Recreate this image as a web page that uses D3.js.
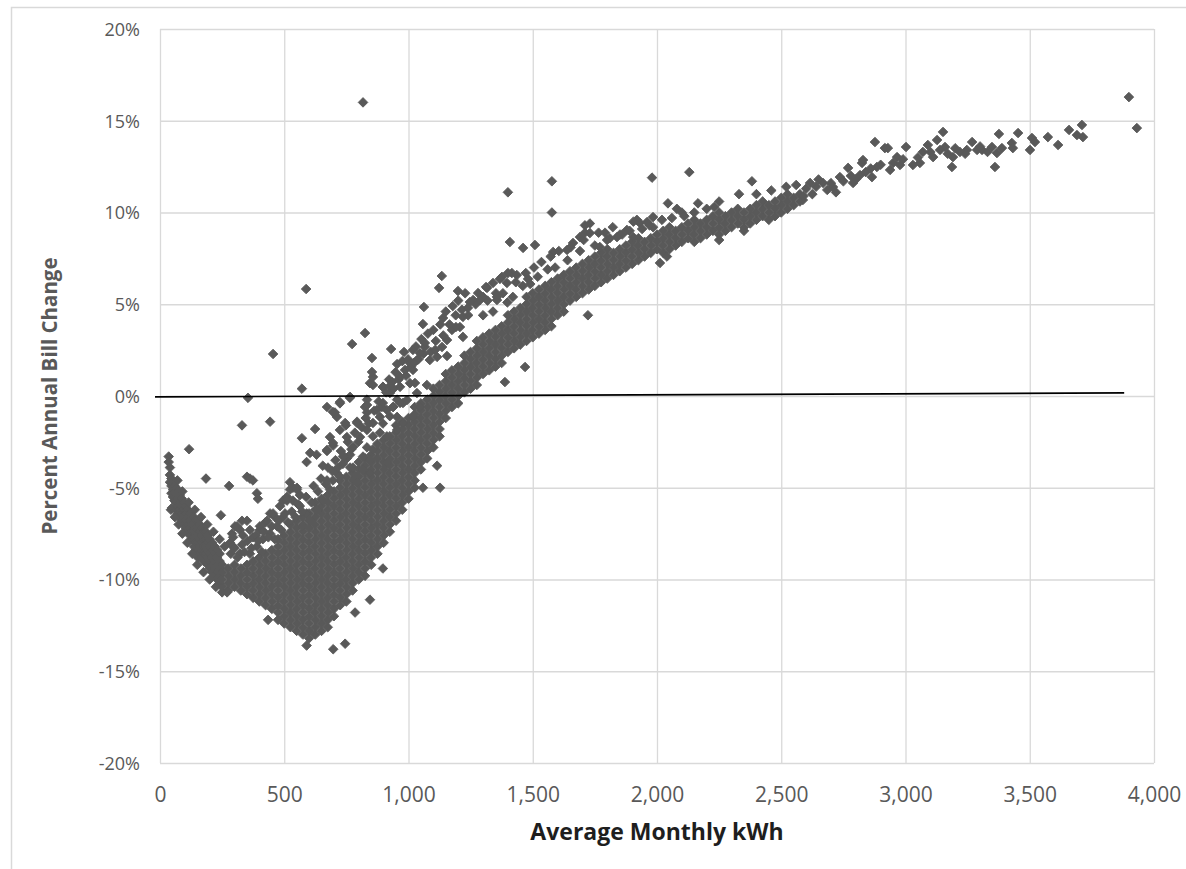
<!DOCTYPE html>
<html><head><meta charset="utf-8">
<script src="https://cdn.jsdelivr.net/npm/d3@7"></script>
<style>html,body{margin:0;padding:0;background:#fff;} svg{display:block;}</style>
</head><body><svg id="chart" width="1186" height="869"></svg>
<script>
// ---------- DATA ----------
const xTicks = [0, 500, 1000, 1500, 2000, 2500, 3000, 3500, 4000];
const yTicks = [-20, -15, -10, -5, 0, 5, 10, 15, 20];
const xTitle = "Average Monthly kWh";
const yTitle = "Percent Annual Bill Change";

// zero reference line (kWh, %)
const refLineX = [-20, 3880];
const refLineY = [-0.05, 0.17];

// low-usage arm: [kWh, pct, pct, ...]
const armColumns = [
  [35,-3.3,-3.6],[40,-3.9,-4.3,-4.7],[46,-4.5,-4.9,-5.3],[52,-4.7,-5.1,-5.5],[58,-4.9,-5.3,-5.7],
  [44,-6.2],[48,-6.1],
  [65,-5.0,-5.4,-5.8,-6.2],[72,-5.2,-5.6,-6.0,-6.4],[80,-5.4,-5.8,-6.2,-6.6],[88,-5.6,-6.0,-6.4,-6.8],
  [96,-5.8,-6.2,-6.6,-7.0],[104,-6.0,-6.4,-6.8,-7.2],[112,-6.2,-6.6,-7.0,-7.4],[120,-6.4,-6.8,-7.2,-7.6],
  [128,-6.6,-7.0,-7.4,-7.8],[136,-6.6,-7.0,-7.4,-7.8,-8.2],[144,-6.8,-7.2,-7.6,-8.0,-8.4],
  [152,-6.8,-7.2,-7.6,-8.0,-8.4,-8.8],[160,-7.0,-7.4,-7.8,-8.2,-8.6],[168,-7.2,-7.6,-8.0,-8.4,-8.8],
  [176,-7.4,-7.8,-8.2,-8.6,-9.0],[184,-7.4,-7.8,-8.2,-8.6,-9.0],[192,-7.6,-8.0,-8.4,-8.8,-9.2],
  [200,-7.8,-8.2,-8.6,-9.0,-9.4],[210,-8.0,-8.4,-8.8,-9.2,-9.6],[220,-8.2,-8.6,-9.0,-9.4,-9.8],
  [230,-8.4,-8.8,-9.2,-9.6,-10.0],[240,-8.6,-9.0,-9.4,-9.8,-10.2]
];
const armEdges = [
  [70,-4.6],[90,-5.2],[115,-5.8],[140,-6.2],[165,-6.6],[190,-7.0],[215,-7.4],[240,-7.8],[260,-8.2],
  [60,-6.6],[75,-7.0],[90,-7.5],[110,-8.0],[130,-8.6],[150,-9.2],[175,-9.6],[200,-10.0],[225,-10.4],[250,-10.7]
];

// dense core: [kWh, pct, pct, ...]
const coreColumns = [
  [250,-10.4,-10.0,-9.6,-9.2],[275,-10.6,-10.2,-9.8,-9.4],[300,-10.4,-10.0,-9.6,-9.2],
  [325,-10.6,-10.2,-9.8,-9.4],[350,-10.8,-10.4,-10.0,-9.6,-9.2],[375,-11.0,-10.6,-10.2,-9.8,-9.4,-9.0],
  [400,-11.2,-10.8,-10.4,-10.0,-9.6,-9.2,-8.8],[425,-11.4,-11.0,-10.6,-10.2,-9.8,-9.4,-9.0,-8.6],
  [450,-11.6,-11.2,-10.8,-10.4,-10.0,-9.6,-9.2,-8.8,-8.4],
  [475,-12.2,-11.8,-11.4,-11.0,-10.6,-10.2,-9.8,-9.4,-9.0,-8.6,-8.2,-7.8],
  [500,-12.4,-12.0,-11.6,-11.2,-10.8,-10.4,-10.0,-9.6,-9.2,-8.8,-8.4,-8.0,-7.6],
  [525,-12.6,-12.2,-11.8,-11.4,-11.0,-10.6,-10.2,-9.8,-9.4,-9.0,-8.6,-8.2,-7.8,-7.4,-7.0],
  [550,-12.8,-12.4,-12.0,-11.6,-11.2,-10.8,-10.4,-10.0,-9.6,-9.2,-8.8,-8.4,-8.0,-7.6,-7.2,-6.8],
  [575,-13.0,-12.6,-12.2,-11.8,-11.4,-11.0,-10.6,-10.2,-9.8,-9.4,-9.0,-8.6,-8.2,-7.8,-7.4,-7.0,-6.6],
  [600,-13.2,-12.8,-12.4,-12.0,-11.6,-11.2,-10.8,-10.4,-10.0,-9.6,-9.2,-8.8,-8.4,-8.0,-7.6,-7.2,-6.8,-6.4],
  [625,-13.0,-12.6,-12.2,-11.8,-11.4,-11.0,-10.6,-10.2,-9.8,-9.4,-9.0,-8.6,-8.2,-7.8,-7.4,-7.0,-6.6,-6.2,-5.8],
  [650,-12.8,-12.4,-12.0,-11.6,-11.2,-10.8,-10.4,-10.0,-9.6,-9.2,-8.8,-8.4,-8.0,-7.6,-7.2,-6.8,-6.4,-6.0,-5.6],
  [675,-12.6,-12.2,-11.8,-11.4,-11.0,-10.6,-10.2,-9.8,-9.4,-9.0,-8.6,-8.2,-7.8,-7.4,-7.0,-6.6,-6.2,-5.8,-5.4],
  [700,-12.0,-11.6,-11.2,-10.8,-10.4,-10.0,-9.6,-9.2,-8.8,-8.4,-8.0,-7.6,-7.2,-6.8,-6.4,-6.0,-5.6,-5.2],
  [725,-11.4,-11.0,-10.6,-10.2,-9.8,-9.4,-9.0,-8.6,-8.2,-7.8,-7.4,-7.0,-6.6,-6.2,-5.8,-5.4,-5.0,-4.6],
  [750,-11.2,-10.8,-10.4,-10.0,-9.6,-9.2,-8.8,-8.4,-8.0,-7.6,-7.2,-6.8,-6.4,-6.0,-5.6,-5.2,-4.8,-4.4],
  [775,-10.6,-10.2,-9.8,-9.4,-9.0,-8.6,-8.2,-7.8,-7.4,-7.0,-6.6,-6.2,-5.8,-5.4,-5.0,-4.6,-4.2],
  [800,-10.0,-9.6,-9.2,-8.8,-8.4,-8.0,-7.6,-7.2,-6.8,-6.4,-6.0,-5.6,-5.2,-4.8,-4.4,-4.0,-3.6],
  [825,-9.8,-9.4,-9.0,-8.6,-8.2,-7.8,-7.4,-7.0,-6.6,-6.2,-5.8,-5.4,-5.0,-4.6,-4.2,-3.8,-3.4],
  [850,-9.2,-8.8,-8.4,-8.0,-7.6,-7.2,-6.8,-6.4,-6.0,-5.6,-5.2,-4.8,-4.4,-4.0,-3.6,-3.2],
  [875,-8.6,-8.2,-7.8,-7.4,-7.0,-6.6,-6.2,-5.8,-5.4,-5.0,-4.6,-4.2,-3.8,-3.4,-3.0,-2.6],
  [900,-8.0,-7.6,-7.2,-6.8,-6.4,-6.0,-5.6,-5.2,-4.8,-4.4,-4.0,-3.6,-3.2,-2.8,-2.4],
  [925,-7.4,-7.0,-6.6,-6.2,-5.8,-5.4,-5.0,-4.6,-4.2,-3.8,-3.4,-3.0,-2.6,-2.2],
  [950,-6.8,-6.4,-6.0,-5.6,-5.2,-4.8,-4.4,-4.0,-3.6,-3.2,-2.8,-2.4,-2.0,-1.6],
  [975,-6.2,-5.8,-5.4,-5.0,-4.6,-4.2,-3.8,-3.4,-3.0,-2.6,-2.2,-1.8,-1.4],
  [1000,-5.6,-5.2,-4.8,-4.4,-4.0,-3.6,-3.2,-2.8,-2.4,-2.0,-1.6,-1.2],
  [1025,-5.0,-4.6,-4.2,-3.8,-3.4,-3.0,-2.6,-2.2,-1.8,-1.4,-1.0,-0.6],
  [1050,-4.0,-3.6,-3.2,-2.8,-2.4,-2.0,-1.6,-1.2,-0.8,-0.4],
  [1075,-3.4,-3.0,-2.6,-2.2,-1.8,-1.4,-1.0,-0.6,-0.2],
  [1100,-2.8,-2.4,-2.0,-1.6,-1.2,-0.8,-0.4,0.0,0.4],
  [1125,-2.2,-1.8,-1.4,-1.0,-0.6,-0.2,0.2,0.6],
  [1150,-1.2,-0.8,-0.4,0.0,0.4,0.8,1.2],[1175,-0.6,-0.2,0.2,0.6,1.0,1.4],
  [1200,-0.4,0.0,0.4,0.8,1.2,1.6],[1225,0.2,0.6,1.0,1.4,1.8,2.2],[1250,0.4,0.8,1.2,1.6,2.0,2.4]
];

// rising band: [kWh, pct, pct, ...]
const bandColumns = [
  [1275,0.6,1.0,1.4,1.8,2.2,2.6,3.0],[1300,1.2,1.6,2.0,2.4,2.8,3.2],[1325,1.4,1.8,2.2,2.6,3.0,3.4],
  [1350,1.6,2.0,2.4,2.8,3.2,3.6],[1375,1.8,2.2,2.6,3.0,3.4,3.8],[1400,2.4,2.8,3.2,3.6,4.0,4.4],
  [1425,2.6,3.0,3.4,3.8,4.2,4.6],[1450,2.8,3.2,3.6,4.0,4.4,4.8],[1475,3.0,3.4,3.8,4.2,4.6,5.0,5.4],
  [1500,3.2,3.6,4.0,4.4,4.8,5.2,5.6],[1525,3.4,3.8,4.2,4.6,5.0,5.4,5.8],[1550,3.6,4.0,4.4,4.8,5.2,5.6,6.0],
  [1575,3.8,4.2,4.6,5.0,5.4,5.8,6.2],[1600,4.4,4.8,5.2,5.6,6.0,6.4],[1625,4.6,5.0,5.4,5.8,6.2,6.6],
  [1650,5.2,5.6,6.0,6.4,6.8],[1675,5.4,5.8,6.2,6.6,7.0],[1700,5.6,6.0,6.4,6.8,7.2],[1725,5.8,6.2,6.6,7.0,7.4],
  [1750,6.0,6.4,6.8,7.2,7.6],[1775,6.2,6.6,7.0,7.4,7.8],[1800,6.4,6.8,7.2,7.6,8.0],[1825,6.6,7.0,7.4,7.8],
  [1850,6.8,7.2,7.6,8.0],[1875,7.0,7.4,7.8,8.2],[1900,7.2,7.6,8.0,8.4],[1925,7.4,7.8,8.2,8.6],
  [1950,7.6,8.0,8.4],[1975,7.8,8.2,8.6],[2000,8.0,8.4,8.8],[2025,7.8,8.2,8.6,9.0],[2050,8.0,8.4,8.8,9.2],
  [2075,8.2,8.6,9.0],[2100,8.4,8.8,9.2],[2125,8.6,9.0,9.4],[2150,8.4,8.8,9.2,9.6],[2175,8.6,9.0,9.4],
  [2200,8.8,9.2,9.6],[2225,9.0,9.4,9.8],[2250,8.8,9.2,9.6,10.0],[2275,9.0,9.4,9.8],[2300,9.2,9.6,10.0],
  [2325,9.4,9.8,10.2],[2350,9.2,9.6,10.0],[2375,9.4,9.8,10.2],[2400,9.6,10.0,10.4],[2425,9.8,10.2,10.6],
  [2450,9.6,10.0,10.4],[2475,9.8,10.2,10.6],[2500,10.0,10.4,10.8],[2525,10.2,10.6,11.0],
  [2550,10.4,10.8],[2575,10.6,11.0]
];

// scattered points above the dense core: [kWh, pct]
const raggedLow = [
  [350,-6.8],[330,-6.8],[322,-7.3],[294,-7.7],[282,-8.0],[302,-7.1],[374,-7.7],[402,-7.3],[423,-6.9],
  [443,-6.4],[463,-6.6],[483,-6.0],[495,-5.7],[511,-5.5],[523,-5.1],[535,-5.0],[551,-5.1],[563,-5.4],
  [535,-5.7],[563,-6.0],[590,-6.4],[575,-7.1],[604,-6.8],[630,-6.2],[655,-5.7],[684,-5.1],[696,-4.6],
  [712,-4.2],[736,-3.7],[752,-3.4],[765,-3.2],[777,-3.9],[793,-4.4],[817,-4.0],[845,-3.5],[833,-2.8],
  [857,-2.2],[885,-2.0],[897,-1.5],[925,-1.1],[938,-0.6],[954,-0.2],
  [350,-4.4],[374,-4.6],[390,-5.3],[394,-5.6],[310,-7.1],[290,-7.5],[294,-8.2],[334,-7.6],[362,-7.3],
  [402,-7.1],[431,-6.8],[455,-6.4],[511,-5.7],[523,-4.7],[551,-5.0],[495,-6.6],[471,-7.1],[443,-7.5],
  [414,-7.8],[390,-8.2],[362,-8.6],[322,-8.6],
  [285,-8.6],[300,-8.3],[312,-8.8],[330,-8.1],[340,-8.5],[352,-7.9],[368,-8.3],[385,-7.6],[396,-7.9],
  [410,-8.5],[418,-7.4],[436,-7.7],[450,-7.1],[462,-7.8],[478,-6.8],[488,-7.3],[503,-6.4],[516,-6.9],
  [530,-6.3],[545,-6.6],[556,-5.9],[572,-6.3],[588,-5.5],[610,-5.8],[618,-4.9],[636,-5.2],[648,-4.5],
  [668,-4.8],[676,-3.9],[694,-4.1],[706,-3.5],[716,-3.9],[728,-3.0],[742,-3.3],[756,-2.5],[770,-2.9],
  [784,-2.0],[798,-2.5],[812,-1.7],[828,-1.2],[840,-1.5],[862,-0.8],[880,-0.3],[893,-0.6]
];
const raggedMid = [
  [845,0.7],[897,0.5],[925,0.16],[966,0.5],[1006,0.7],[1034,0.16],[1074,0.6],[833,-0.2],[873,-0.76],
  [897,-0.38],[954,-1.14],[978,-0.38],[672,-0.6],[712,-1.14],[724,-1.85],[684,-2.24],[752,-2.24],
  [777,-2.78],[805,-2.24],[833,-1.85],[857,-1.47],[885,-1.14],[913,-0.76],[938,-0.6],[966,-0.38],
  [994,-0.22],[736,-3.3],[765,-3.9],[817,-3.3],[857,-2.9],[913,-2.2],[954,-1.85],[978,-1.47],
  [1018,-1.14],[1046,-0.6],[672,-4.6],[724,-4.4],[793,-4.7],[845,-4.2],[913,-3.65],
  [604,-3.1],[630,-3.2],[672,-3.0],[697,-2.7],[571,-2.3],[624,-1.8],[590,-3.6],[655,-3.8],[704,-0.9],
  [724,-0.4],[764,-0.1],[748,-1.6],[793,-1.4],[825,-0.6],[833,-0.9],
  [910,0.2],[922,0.9],[940,0.4],[948,1.3],[960,0.9],[975,1.9],[990,1.1],[998,2.0],[1010,1.6],[1030,2.7],
  [1040,2.0],[1052,3.1],[1060,2.3],[1078,3.4],[1090,2.4],[1100,3.6],[1110,3.0],[1128,3.9],[1140,3.3],
  [1150,4.6],[1165,3.9],[1178,4.9],[1190,4.4],[1200,5.2],[1215,4.7],[1228,5.6],[1240,4.4],[1270,5.0]
];
const raggedHigh = [
  [857,1.04],[897,0.49],[934,0.76],[966,1.04],[986,1.42],[1006,1.80],[1034,1.96],[1046,2.34],[1018,2.51],
  [1086,1.96],[1107,2.51],[1135,2.67],[1155,3.05],[1175,3.60],[1207,3.76],[1219,4.31],[1239,4.80],
  [1260,5.23],[1280,5.61],[1300,5.40],[1316,5.89],[1340,6.16],[1356,5.23],[1376,6.49],[1396,6.16],[1416,6.70],
  [825,3.43],[773,2.83],[930,2.56],[982,2.40],[853,2.07],[954,1.74],[853,1.31],[857,0.60],[925,0.54],
  [1018,1.42],[1066,2.67],[1115,2.13],[1155,2.18],[1026,0.71],[765,-0.05],[724,-0.33],[696,-0.87],
  [833,-0.49],[745,-1.47],[793,-1.47],[672,-2.94],[696,-2.56],
  [1408,8.39],[1461,8.07],[1509,8.23],[1582,7.85],[1134,6.54],[1123,5.89],[1199,5.72],[1312,5.94],
  [1368,6.38],[1400,6.70],[1436,6.59],[1481,6.38],[1356,5.40],[1288,5.23],[1247,5.12],[1062,4.85],
  [1139,4.25],[1058,3.92],[1191,3.76],[1219,3.22],[1066,2.89],[1022,1.80],[1388,0.76],
  [1710,9.3],[1730,9.4],[1710,8.9],[1791,8.9],[1851,8.8],[1919,9.6],[1984,9.2],[2044,10.5],[2100,10.0],
  [2012,7.25],[2040,7.6],
  [1638,7.96],[1662,8.34],[1690,8.66],[1730,8.88],[1770,8.12],[1799,8.5],[1839,8.66],[1879,9.05],
  [1904,8.66],[1931,9.43],[1960,9.48],[1984,9.75],
  [2250,10.6],[2330,11.0],[2400,11.0],[2460,11.2],[2520,11.4],[2560,11.5],[2250,8.5],[2350,9.0],
  [1300,4.4],[1318,5.2],[1340,4.6],[1352,5.6],[1380,5.6],[1398,5.1],[1420,5.4],[1432,6.2],[1460,6.0],
  [1472,6.7],[1490,6.1],[1505,7.0],[1520,6.5],[1535,7.3],[1560,6.9],[1572,7.6],[1590,7.0],[1605,7.9],
  [1640,7.4],[1652,8.1],[1690,7.9],[1705,8.5],[1750,8.2],[1765,8.9],[1810,8.6],[1822,9.2],[1860,8.8],
  [1890,9.0],[1905,9.5],[1940,9.1],[1970,9.3],[2020,9.6],[2060,9.7],[2080,10.2],[2110,9.8],[2150,10.0],
  [2165,10.5],[2200,10.2],[2230,10.3]
];
const highUsage = [
  [2587,10.68],[2616,11.61],[2668,11.61],[2685,11.23],[2708,11.39],[2736,11.93],[2769,12.43],[2789,11.61],
  [2817,12.04],[2825,12.70],[2829,12.86],[2865,11.93],[2877,13.84],[2885,12.48],[2917,13.51],[2929,13.51],
  [2938,12.32],[2966,13.02],[2978,12.59],[3002,13.57],[3030,12.59],[3058,12.70],[3090,13.68],[3111,13.02],
  [3127,13.95],[3151,14.39],[3159,13.57],[3139,13.41],[3187,12.48],[3191,13.02],[3219,13.30],[3247,13.41],
  [3268,13.84],[3288,13.41],[3308,13.41],[3348,13.57],[3360,12.48],[3368,13.24],[3376,14.28],[3388,13.51],
  [3428,13.79],[3432,13.51],[3453,14.33],[3501,13.41],[3509,14.06],[3521,13.84],[3573,14.11],[3614,13.68],
  [3658,14.50],[3690,14.22],[3710,14.77],[3714,14.11],
  [2590,10.9],[2600,11.3],[2625,11.0],[2640,11.4],[2650,11.8],[2700,11.6],[2720,11.1],[2750,11.7],
  [2780,12.0],[2800,11.8],[2840,12.2],[2860,12.4],[2900,12.6],[2950,12.7],[2990,12.9],[3050,13.0],
  [3070,13.3],[3100,13.3],[3170,13.2],[3200,13.5],[3240,13.2],[3300,13.6],[3330,13.3]
];
const outliers = [
  [817,16.0],[588,5.83],[455,2.29],[354,-0.1],[571,0.4],[330,-1.6],[443,-1.4],[117,-2.9],[185,-4.5],
  [278,-4.9],[245,-6.5],[270,-10.7],[435,-12.2],[590,-13.6],[697,-13.8],[745,-13.5],[845,-11.1],
  [785,-11.8],[897,-9.4],[1115,-3.8],[1058,-5.0],[1127,-5.0],[1400,11.1],[1577,11.7],[1577,10.0],
  [1980,11.9],[2130,12.2],[2382,11.7],[1722,4.4],[1469,1.58],[3899,16.29],[3931,14.6],[362,-4.5]
];

// ---------- CHART ----------
const svg = d3.select("#chart");
const W = 1186, H = 869;
const x = d3.scaleLinear().domain([0, 4000]).range([160, 1154]);
const y = d3.scaleLinear().domain([-20, 20]).range([763, 29]);

// outer chart border
svg.append("rect").attr("x", 11.5).attr("y", 7.5).attr("width", W + 20).attr("height", H + 20)
  .attr("fill", "#fff").attr("stroke", "#d9d9d9").attr("stroke-width", 1.5);

// axes with gridlines
const gy = svg.append("g").attr("transform", `translate(${x(0)},0)`)
  .call(d3.axisLeft(y).tickValues(yTicks).tickSize(-(x(4000) - x(0))).tickPadding(20)
    .tickFormat(d => d + "%"));
gy.select(".domain").remove();
gy.selectAll("line").attr("stroke", "#d9d9d9").attr("stroke-width", 1.3);
gy.selectAll("text").attr("fill", "#595959").style("font-family", "'Open Sans', sans-serif")
  .style("font-size", "18px").attr("dy", "0.36em");

const gx = svg.append("g").attr("transform", `translate(0,${y(-20)})`)
  .call(d3.axisBottom(x).tickValues(xTicks).tickSize(-(y(-20) - y(20))).tickPadding(24)
    .tickFormat(d3.format(",")));
gx.select(".domain").remove();
gx.selectAll("line").attr("stroke", "#d9d9d9").attr("stroke-width", 1.3);
gx.selectAll("text").attr("fill", "#595959").style("font-family", "'Open Sans', sans-serif")
  .style("font-size", "21px").attr("dy", "0.71em");

// titles
svg.append("text").attr("x", x(2000)).attr("y", 840).attr("text-anchor", "middle")
  .style("font-family", "'Open Sans', sans-serif").style("font-size", "23px").style("font-weight", "bold")
  .attr("fill", "#1e1e1e").text(xTitle);
svg.append("text").attr("transform", `translate(57,${y(0)}) rotate(-90)`).attr("text-anchor", "middle")
  .style("font-family", "'Open Sans', sans-serif").style("font-size", "20.5px").style("font-weight", "bold")
  .attr("fill", "#595959").text(yTitle);

// points
const fromColumns = cols => cols.flatMap(c => c.slice(1).map(v => [c[0], v]));
const allPoints = [].concat(
  fromColumns(armColumns), armEdges, fromColumns(coreColumns), fromColumns(bandColumns),
  raggedLow, raggedMid, raggedHigh, highUsage, outliers
);
const r = 4.8;
const diamond = `M0,${-r}L${r},0L0,${r}L${-r},0Z`;
svg.append("g").selectAll("path").data(allPoints).join("path")
  .attr("d", diamond)
  .attr("transform", d => `translate(${x(d[0])},${y(d[1])})`)
  .attr("fill", "#595959").attr("stroke", "#595959").attr("stroke-width", 0.9);

// zero reference line
svg.append("path")
  .datum(refLineX.map((v, i) => [v, refLineY[i]]))
  .attr("d", d3.line().x(d => x(d[0])).y(d => y(d[1])))
  .attr("stroke", "#000").attr("stroke-width", 1.7).attr("fill", "none");
</script>
</body></html>
